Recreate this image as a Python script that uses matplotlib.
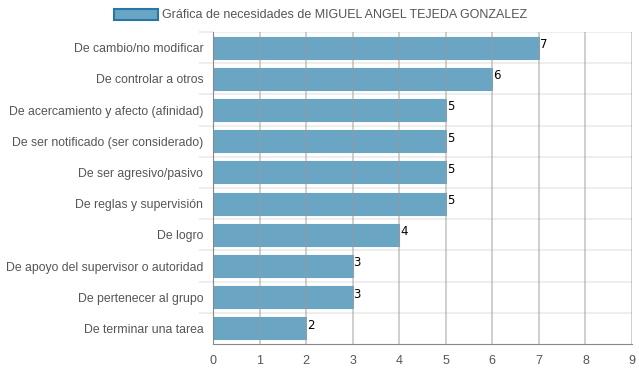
import matplotlib
matplotlib.use("Agg")
import matplotlib.pyplot as plt
from matplotlib.patches import Patch

categories = [
    "De cambio/no modificar",
    "De controlar a otros",
    "De acercamiento y afecto (afinidad)",
    "De ser notificado (ser considerado)",
    "De ser agresivo/pasivo",
    "De reglas y supervisión",
    "De logro",
    "De apoyo del supervisor o autoridad",
    "De pertenecer al grupo",
    "De terminar una tarea",
]
values = [7, 6, 5, 5, 5, 5, 4, 3, 3, 2]
xticks = list(range(0, 10))
legend_label = "Gráfica de necesidades de MIGUEL ANGEL TEJEDA GONZALEZ"

plt.rcParams['font.family'] = ['Liberation Sans', 'DejaVu Sans']

fig = plt.figure(figsize=(6.39, 3.72), dpi=100)
ax = fig.add_axes([213/639, 1-344/372, (632-213)/639, (344-32)/372])

n = len(categories)
ys = list(range(n))
bar_color = "#6aa6c4"
ax.barh(ys, values, height=0.7, color=bar_color, edgecolor=bar_color, linewidth=0.8, zorder=2)
for y, v in zip(ys, values):
    ax.text(v + 0.02, y - 0.1, str(v), va="center", ha="left", fontsize=8.5,
            color="black", family="DejaVu Sans", zorder=4)

ax.set_xlim(0, 9)
ax.set_ylim(n - 0.5, -0.5)
ax.set_xticks(xticks)
ax.set_xticklabels([str(t) for t in xticks])
ax.set_yticks(ys)
ax.set_yticklabels(categories)

for t in xticks[1:]:
    ax.axvline(t, color="#999999", alpha=0.55, linewidth=1.2, zorder=3)
for b in [i + 0.5 for i in range(-1, n - 1)]:
    ax.axhline(b, color="#ebebeb", linewidth=1.2, zorder=1)
ax.set_yticks([i + 0.5 for i in range(-1, n - 1)], minor=True)
ax.tick_params(axis="y", which="minor", length=10, color="#ebebeb", width=1.2)
ax.tick_params(axis="y", which="major", length=0, pad=7, labelsize=8.8, labelcolor="#555555")
ax.tick_params(axis="x", which="major", length=0, pad=8, labelsize=9, labelcolor="#555555")

for s in ["top", "right"]:
    ax.spines[s].set_visible(False)
ax.spines["left"].set_color("#888888")
ax.spines["bottom"].set_color("#888888")

handle = Patch(facecolor=bar_color, edgecolor="#2a77a6", linewidth=1.5)
fig.legend([handle], [legend_label], loc="center left", bbox_to_anchor=(108/639, 1-15/372),
           frameon=False, fontsize=9, handlelength=3.5, handleheight=1.0, handletextpad=0.35,
           labelcolor="#555555", borderpad=0)

fig.savefig("out.png", dpi=100)
